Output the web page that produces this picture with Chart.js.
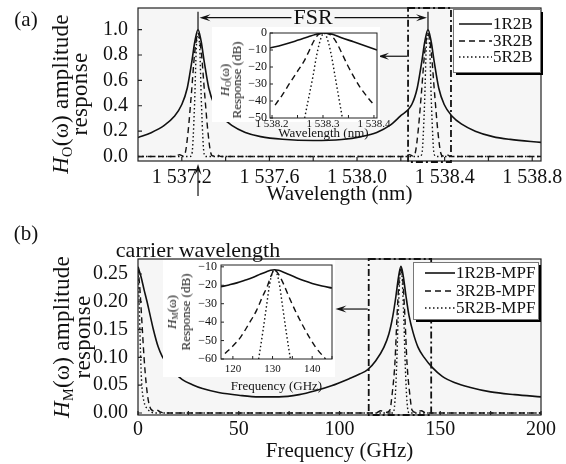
<!DOCTYPE html>
<html>
<head>
<meta charset="utf-8">
<script src="https://cdn.jsdelivr.net/npm/chart.js@4.4.1/dist/chart.umd.min.js"></script>
<style>
  body { margin: 0; background: #fff; width: 566px; height: 464px; position: relative; overflow: hidden;
         font-family: 'Liberation Serif', 'DejaVu Serif', serif; color: #111; }
  canvas { position: absolute; }
  .txt { position: absolute; white-space: nowrap; line-height: 1; transform: translate(-50%, -50%); }
  .rot { text-align: center; transform: translate(-50%, -50%) rotate(-90deg); }
  sub { font-size: 0.62em; vertical-align: -0.3em; line-height: 0; }
</style>
</head>
<body>
<canvas id="mainA" width="566" height="230" style="left:0;top:0"></canvas>
<canvas id="insetA" width="185" height="116" style="left:212px;top:27px"></canvas>
<canvas id="mainB" width="566" height="234" style="left:0;top:230px"></canvas>
<canvas id="insetB" width="180" height="135" style="left:163px;top:260px"></canvas>

<div class="txt" style="left:26px;top:19px;font-size:21px">(a)</div>
<div class="txt" style="left:26px;top:233px;font-size:21px">(b)</div>
<div class="txt" style="left:198px;top:250px;font-size:22px">carrier wavelength</div>
<div class="txt rot" style="left:70px;top:94px;font-size:23px;line-height:19px;letter-spacing:0.3px"><i>H</i><sub>O</sub>(ω) amplitude<br>response</div>
<div class="txt rot" style="left:72px;top:337px;font-size:23px;line-height:21px;letter-spacing:0.3px"><i>H</i><sub>M</sub>(ω) amplitude<br>response</div>
<div class="txt rot" style="left:231px;top:80px;font-size:13px;line-height:12px"><i>H</i><sub>O</sub>(ω)<br>Response (dB)</div>
<div class="txt rot" style="left:179px;top:312px;font-size:13px;line-height:14px"><i>H</i><sub>M</sub>(ω)<br>Response (dB)</div>

<script>
// ---------- panel (a): wavelength (nm) vs amplitude ----------
const xTicksA = [1537.2, 1537.6, 1538.0, 1538.4, 1538.8];
const xMinorA = [1537.2, 1537.4, 1537.6, 1537.8, 1538.0, 1538.2, 1538.4, 1538.6, 1538.8];
const yTicksA = [0, 0.2, 0.4, 0.6, 0.8, 1.0];
const seriesA = ['1R2B', '3R2B', '5R2B'];

const amp1R2B = [[1537.0,0.150],[1537.06,0.188],[1537.12,0.245],[1537.165,0.315],[1537.2,0.41],[1537.225,0.54],
  [1537.245,0.74],[1537.26,0.91],[1537.274,1.0],[1537.288,0.91],[1537.303,0.74],[1537.323,0.54],[1537.348,0.41],
  [1537.383,0.315],[1537.428,0.245],[1537.49,0.19],[1537.56,0.157],[1537.66,0.136],[1537.8,0.126],[1537.93,0.134],
  [1538.02,0.157],[1538.09,0.19],[1538.15,0.245],[1538.195,0.315],[1538.25,0.41],[1538.275,0.54],[1538.295,0.74],
  [1538.31,0.91],[1538.324,1.0],[1538.338,0.91],[1538.353,0.74],[1538.373,0.54],[1538.398,0.41],[1538.433,0.32],
  [1538.478,0.255],[1538.54,0.2],[1538.62,0.157],[1538.7,0.135],[1538.84,0.112]];
const amp3R2B = [[1537.0,0],[1537.17,0],[1537.19,0.015],[1537.205,0.004],[1537.216,0.03],[1537.229,0.2],[1537.244,0.5],
  [1537.259,0.82],[1537.274,0.97],[1537.289,0.82],[1537.304,0.5],[1537.319,0.2],[1537.332,0.03],[1537.343,0.004],
  [1537.358,0.015],[1537.38,0],[1538.22,0],[1538.24,0.015],[1538.255,0.004],[1538.266,0.03],[1538.279,0.2],
  [1538.294,0.5],[1538.309,0.82],[1538.324,0.97],[1538.339,0.82],[1538.354,0.5],[1538.369,0.2],[1538.382,0.03],
  [1538.393,0.004],[1538.408,0.015],[1538.43,0],[1538.84,0]];
const amp5R2B = [[1537.0,0],[1537.236,0],[1537.246,0.02],[1537.258,0.4],[1537.266,0.85],[1537.274,0.97],
  [1537.282,0.85],[1537.29,0.4],[1537.302,0.02],[1537.312,0],[1538.286,0],[1538.296,0.02],[1538.308,0.4],
  [1538.316,0.85],[1538.324,0.97],[1538.332,0.85],[1538.34,0.4],[1538.352,0.02],[1538.362,0],[1538.84,0]];

// inset (a): response in dB
const xTicksIA = [1538.2, 1538.3, 1538.4];
const yTicksIA = [0, -10, -20, -30, -40, -50];
const db1R2B = [[1538.196,-8.8],[1538.22,-7.0],[1538.245,-4.8],[1538.27,-2.4],[1538.285,-0.9],[1538.295,-0.2],
  [1538.302,0],[1538.31,-0.2],[1538.32,-0.9],[1538.335,-2.6],[1538.36,-5.2],[1538.385,-7.8],[1538.406,-10.0]];
const db3R2B = [[1538.206,-42.4],[1538.22,-36.5],[1538.235,-29.4],[1538.25,-22.5],[1538.262,-17],[1538.272,-11],
  [1538.281,-5.3],[1538.29,-1.2],[1538.302,0],[1538.315,-1.2],[1538.322,-3.5],[1538.329,-7],[1538.338,-12.5],
  [1538.348,-18.8],[1538.36,-25.5],[1538.373,-32],[1538.388,-38],[1538.402,-43]];
const db5R2B = [[1538.264,-50],[1538.272,-38],[1538.28,-26],[1538.287,-14],[1538.293,-6],[1538.298,-1.5],
  [1538.302,0],[1538.306,-1.5],[1538.311,-6],[1538.317,-14],[1538.324,-26],[1538.331,-38],[1538.338,-50]];

// ---------- panel (b): frequency (GHz) vs amplitude ----------
const xTicksB = [0, 50, 100, 150, 200];
const xMinorB = [0, 25, 50, 75, 100, 125, 150, 175, 200];
const yTicksB = [0, 0.05, 0.10, 0.15, 0.20, 0.25];
const seriesB = ['1R2B-MPF', '3R2B-MPF', '5R2B-MPF'];

const mpf1R2B = [[0,0.263],[1.5,0.245],[3,0.222],[4.5,0.2],[6,0.176],[7.5,0.152],[10,0.119],[12,0.102],[14.5,0.089],
  [18,0.073],[22,0.06],[27,0.051],[32,0.044],[40,0.037],[50,0.032],[60,0.029],[70,0.029],[80,0.033],[88,0.04],
  [96,0.049],[105,0.062],[110,0.07],[114,0.078],[118,0.094],[122,0.118],[124.5,0.142],[126.5,0.175],[128,0.21],
  [129.3,0.245],[130.5,0.264],[131.7,0.245],[133,0.21],[134.5,0.175],[136.5,0.145],[139,0.118],[142,0.1],
  [146,0.082],[151,0.066],[157,0.055],[165,0.046],[175,0.038],[187,0.033],[200,0.029]];
const mpf3R2B = [[0,0.262],[1,0.22],[2,0.16],[3,0.10],[4,0.055],[5,0.025],[6,0.01],[7.5,0.004],[9,0.006],[11,0.002],
  [13,0],[118,0],[120.5,0.004],[123,0.001],[125,0.005],[126,0.03],[127.5,0.09],[128.5,0.17],[129.5,0.235],
  [130.5,0.262],[131.5,0.235],[132.5,0.17],[133.5,0.09],[135,0.03],[136,0.005],[138,0.001],[140.5,0.004],[143,0],[200,0]];
const mpf5R2B = [[0,0.262],[0.5,0.21],[1,0.14],[1.5,0.08],[2,0.045],[3,0.02],[4.5,0.008],[6,0.003],[8,0],
  [126.5,0],[127.5,0.02],[128.3,0.08],[129,0.16],[129.8,0.235],[130.5,0.262],[131.2,0.235],[132,0.16],
  [132.7,0.08],[133.5,0.02],[134.5,0],[200,0]];

// inset (b): response in dB
const xTicksIB = [120, 130, 140];
const yTicksIB = [-10, -20, -30, -40, -50, -60];
const dbM1R2B = [[117,-20.8],[119,-19.8],[121,-18.7],[123,-17.3],[125,-15.8],[127,-13.9],[128.5,-12.6],[129.5,-11.9],
  [130.5,-11.6],[131.5,-11.9],[132.5,-12.6],[134,-14],[136,-15.9],[138,-17.6],[140,-19],[142.5,-20.4],[145,-21.5]];
const dbM3R2B = [[118,-57],[120,-53],[122,-48],[124,-41],[126,-33.5],[127.5,-26],[128.6,-21],[129.6,-15],[130.5,-11.6],
  [131.5,-14],[132.5,-18],[133.5,-23],[134.5,-28],[136,-35],[137.8,-42.5],[139.5,-49],[141,-54],[142.8,-58.6],[143.4,-60]];
const dbM5R2B = [[126.5,-60],[127.5,-46],[128.5,-31],[129.3,-19],[130,-13],[130.5,-11.6],[131,-13],[131.7,-19],
  [132.5,-31],[133.5,-46],[134.5,-60]];

// annotations (data units)
const fsrPeaks = [1537.274, 1538.324];
const zoomBoxA = [1538.233, 1538.429];
const zoomBoxB = [114.5, 145.5];

const FONT = "'Liberation Serif', 'DejaVu Serif', serif";
const INK = '#111';
const styles = [
  { borderWidth: 1.6, borderDash: [] },
  { borderWidth: 1.4, borderDash: [6, 4] },
  { borderWidth: 1.4, borderDash: [1.5, 2.5] }
];

function toXY(arr) { return arr.map(p => ({ x: p[0], y: p[1] })); }
function makeSets(names, arrs) {
  return arrs.map((a, i) => Object.assign({ label: names[i], data: toXY(a), borderColor: INK, fill: false }, styles[i]));
}
function fmtWl(v) { return '1 ' + (v - 1000).toFixed(1); }
function fmtDb(v) { return v < 0 ? '\u2212' + Math.abs(v) : String(v); }

function arrow(ctx, x1, y1, x2, y2, head, half) {
  head = head || 10; half = half || 3.5;
  const a = Math.atan2(y2 - y1, x2 - x1), c = Math.cos(a), s = Math.sin(a);
  ctx.beginPath(); ctx.moveTo(x1, y1); ctx.lineTo(x2 - c * head * 0.6, y2 - s * head * 0.6); ctx.stroke();
  ctx.beginPath(); ctx.moveTo(x2, y2);
  ctx.lineTo(x2 - head * c + half * s, y2 - head * s - half * c);
  ctx.lineTo(x2 - head * 0.6 * c, y2 - head * 0.6 * s);
  ctx.lineTo(x2 - head * c - half * s, y2 - head * s + half * c);
  ctx.closePath(); ctx.fill();
}

function drawLegend(chart, ctx, L) {
  ctx.save();
  ctx.fillStyle = '#000';
  ctx.fillRect(L.x + 3, L.y + 3, L.w, L.h);
  ctx.fillStyle = '#fff';
  ctx.fillRect(L.x, L.y, L.w, L.h);
  ctx.strokeStyle = '#777'; ctx.lineWidth = 1;
  ctx.strokeRect(L.x + 0.5, L.y + 0.5, L.w, L.h);
  ctx.font = L.size + 'px ' + FONT;
  ctx.textBaseline = 'middle';
  chart.data.datasets.forEach((ds, i) => {
    const yy = L.rows[i];
    ctx.strokeStyle = INK; ctx.lineWidth = ds.borderWidth; ctx.setLineDash(ds.borderDash);
    ctx.beginPath(); ctx.moveTo(L.l1, yy); ctx.lineTo(L.l2, yy); ctx.stroke();
    ctx.setLineDash([]);
    ctx.fillStyle = INK; ctx.fillText(ds.label, L.tx, yy + 1);
  });
  ctx.restore();
}

function deco(cfg) {
  return {
    id: 'deco',
    beforeDraw(chart) {
      const { ctx, chartArea: a } = chart;
      ctx.save();
      if (cfg.white) { ctx.fillStyle = '#fff'; ctx.fillRect(0, 0, a.right + 3, cfg.white); }
      ctx.fillStyle = cfg.bg;
      ctx.fillRect(a.left, a.top, a.right - a.left, a.bottom - a.top);
      ctx.restore();
    },
    afterDatasetsDraw(chart) {
      const { ctx, chartArea: a, scales: { x, y } } = chart;
      ctx.save();
      ctx.strokeStyle = '#222'; ctx.lineWidth = cfg.frame;
      ctx.beginPath();
      cfg.xt.forEach(v => { const p = x.getPixelForValue(v); ctx.moveTo(p, a.bottom); ctx.lineTo(p, a.bottom - cfg.tick); });
      cfg.yt.forEach(v => { const p = y.getPixelForValue(v); ctx.moveTo(a.left, p); ctx.lineTo(a.left + cfg.tick, p); });
      ctx.stroke();
      ctx.strokeRect(a.left, a.top, a.right - a.left, a.bottom - a.top);
      ctx.restore();
      if (cfg.extra) { ctx.save(); ctx.strokeStyle = INK; ctx.fillStyle = INK; cfg.extra(chart, ctx); ctx.restore(); }
      if (cfg.legend) drawLegend(chart, ctx, cfg.legend);
    }
  };
}

function scaleOpts(o) {
  return {
    type: 'linear', min: o.min, max: o.max,
    afterBuildTicks: s => { s.ticks = o.ticks.map(v => ({ value: v })); },
    afterFit: s => {
      if (o.w !== undefined) s.width = o.w;
      if (o.h !== undefined) s.height = o.h;
      s.paddingTop = 0; s.paddingBottom = 0; s.paddingLeft = 0; s.paddingRight = 0;
    },
    grid: { display: false, drawTicks: false },
    border: { display: false },
    ticks: { padding: o.pad, autoSkip: false, maxRotation: 0, color: INK,
             font: { family: FONT, size: o.size }, callback: o.fmt },
    title: o.title ? { display: true, text: o.title, color: INK, font: { family: FONT, size: o.tsize },
                       padding: { top: 0, bottom: o.tpad } } : { display: false }
  };
}

function baseOpts(padding, xs, ys) {
  return {
    responsive: false, animation: false,
    layout: { padding: padding },
    plugins: { legend: { display: false }, tooltip: { enabled: false } },
    elements: { point: { radius: 0 }, line: { cubicInterpolationMode: 'monotone', borderJoinStyle: 'round' } },
    scales: { x: xs, y: ys }
  };
}

// ----- main (a)
new Chart(document.getElementById('mainA'), {
  type: 'line',
  data: { datasets: makeSets(seriesA, [amp1R2B, amp3R2B, amp5R2B]) },
  options: baseOpts({ top: 8, right: 25, left: 0, bottom: 0 },
    scaleOpts({ min: 1537.0, max: 1538.84, ticks: xTicksA, h: 69, pad: 5, size: 20, fmt: fmtWl,
                title: 'Wavelength (nm)', tsize: 21, tpad: 23 }),
    scaleOpts({ min: -0.035, max: 1.17, ticks: yTicksA, w: 138, pad: 10, size: 20, fmt: v => v.toFixed(1) })),
  plugins: [deco({
    bg: '#f6f6f6', frame: 1.2, tick: 4, xt: xMinorA, yt: yTicksA,
    legend: { x: 453, y: 9, w: 87, h: 63, l1: 459, l2: 492, tx: 493, rows: [24, 41, 57], size: 17 },
    extra: (chart, ctx) => {
      const { x, y } = chart.scales, a = chart.chartArea;
      // dash-dot zoom box
      const bx1 = x.getPixelForValue(zoomBoxA[0]), bx2 = x.getPixelForValue(zoomBoxA[1]);
      ctx.lineWidth = 1.8; ctx.setLineDash([7, 3, 2, 3]);
      ctx.strokeRect(bx1, a.top, bx2 - bx1, a.bottom - a.top + 1);
      ctx.setLineDash([]); ctx.lineWidth = 1.2;
      arrow(ctx, bx1 - 1, y.getPixelForValue(0.79), x.getPixelForValue(1538.096), y.getPixelForValue(0.79), 11, 3.5);
      // FSR marker
      const p1 = x.getPixelForValue(fsrPeaks[0]), p2 = x.getPixelForValue(fsrPeaks[1]);
      const top = y.getPixelForValue(1.14), fy = y.getPixelForValue(1.094);
      ctx.beginPath();
      ctx.moveTo(p1, y.getPixelForValue(1.0)); ctx.lineTo(p1, top);
      ctx.moveTo(p2, y.getPixelForValue(1.0)); ctx.lineTo(p2, top);
      ctx.stroke();
      ctx.font = '22px ' + FONT; ctx.textAlign = 'center'; ctx.textBaseline = 'middle';
      const mid = (p1 + p2) / 2, tw = ctx.measureText('FSR').width;
      ctx.fillText('FSR', mid, fy + 1);
      arrow(ctx, mid - tw / 2 - 2, fy, p1 + 1.5, fy, 11, 3.5);
      arrow(ctx, mid + tw / 2 + 2, fy, p2 - 1, fy, 11, 3.5);
      // carrier arrow under the axis
      arrow(ctx, p1, a.bottom + 35, p1, a.bottom + 3, 11, 3.5);
    }
  })]
});

// ----- inset (a)
new Chart(document.getElementById('insetA'), {
  type: 'line',
  data: { datasets: makeSets(seriesA, [db1R2B, db3R2B, db5R2B]) },
  options: baseOpts({ top: 6, right: 20, left: 0, bottom: 0 },
    scaleOpts({ min: 1538.196, max: 1538.406, ticks: xTicksIA, h: 25, pad: 0, size: 11, fmt: fmtWl,
                title: 'Wavelength (nm)', tsize: 13, tpad: 2 }),
    scaleOpts({ min: -50, max: 0, ticks: yTicksIA, w: 58, pad: 3, size: 12, fmt: fmtDb })),
  plugins: [deco({ bg: '#fff', white: 95, frame: 1, tick: 3,
    xt: [1538.2, 1538.25, 1538.3, 1538.35, 1538.4], yt: yTicksIA })]
});

// ----- main (b)
new Chart(document.getElementById('mainB'), {
  type: 'line',
  data: { datasets: makeSets(seriesB, [mpf1R2B, mpf3R2B, mpf5R2B]) },
  options: baseOpts({ top: 29, right: 25, left: 0, bottom: 0 },
    scaleOpts({ min: 0, max: 200, ticks: xTicksB, h: 49, pad: 3, size: 20, fmt: v => String(v),
                title: 'Frequency (GHz)', tsize: 21, tpad: 0 }),
    scaleOpts({ min: -0.0036, max: 0.277, ticks: yTicksB, w: 138, pad: 10, size: 20, fmt: v => v.toFixed(2) })),
  plugins: [deco({
    bg: '#f6f6f6', frame: 1.2, tick: 4, xt: xMinorB, yt: yTicksB,
    legend: { x: 413, y: 32, w: 125, h: 57, l1: 425, l2: 455, tx: 456, rows: [43, 61, 78], size: 17 },
    extra: (chart, ctx) => {
      const { x, y } = chart.scales, a = chart.chartArea;
      const bx1 = x.getPixelForValue(zoomBoxB[0]), bx2 = x.getPixelForValue(zoomBoxB[1]);
      ctx.lineWidth = 1.8; ctx.setLineDash([7, 3, 2, 3]);
      ctx.strokeRect(bx1, a.top, bx2 - bx1, a.bottom - a.top);
      ctx.setLineDash([]); ctx.lineWidth = 1.2;
      arrow(ctx, bx1 - 1, y.getPixelForValue(0.187), x.getPixelForValue(98), y.getPixelForValue(0.187), 11, 3.5);
    }
  })]
});

// ----- inset (b)
new Chart(document.getElementById('insetB'), {
  type: 'line',
  data: { datasets: makeSets(seriesB, [dbM1R2B, dbM3R2B, dbM5R2B]) },
  options: baseOpts({ top: 5, right: 11, left: 0, bottom: 0 },
    scaleOpts({ min: 117, max: 145, ticks: xTicksIB, h: 36, pad: 4, size: 11, fmt: v => String(v),
                title: 'Frequency (GHz)', tsize: 13, tpad: 1 }),
    scaleOpts({ min: -60, max: -9, ticks: yTicksIB, w: 58, pad: 4, size: 12, fmt: fmtDb })),
  plugins: [deco({ bg: '#fff', white: 117, frame: 1, tick: 3,
    xt: [120, 125, 130, 135, 140, 145], yt: yTicksIB })]
});
</script>
</body>
</html>
